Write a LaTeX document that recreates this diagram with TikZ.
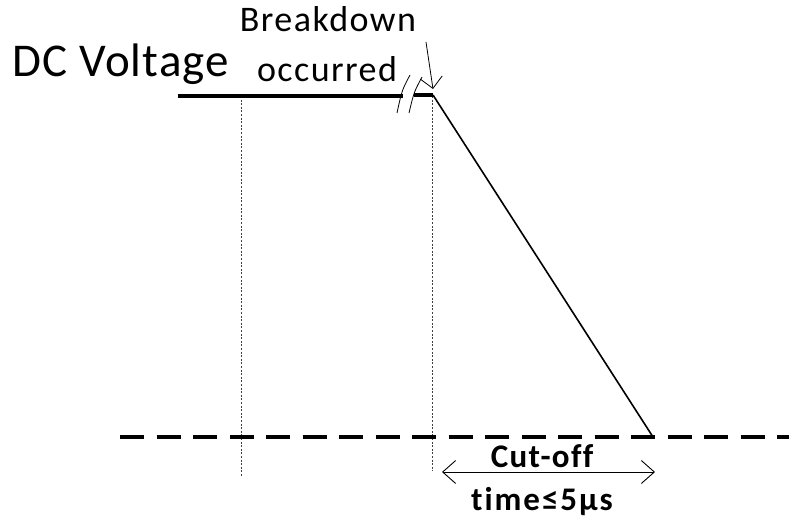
\documentclass[tikz,border=0pt]{standalone}
\usepackage{fontspec}
\setmainfont[Ligatures=NoCommon]{Carlito}
\usetikzlibrary{arrows.meta}
\begin{document}
\begin{tikzpicture}[x=1pt,y=-1pt,
  lbl/.style={inner sep=0pt},
  level/.style={line width=3.2pt},
  ramp/.style={line width=1.6pt},
  guide/.style={line width=0.8pt, black!75, dash pattern=on 2pt off 1.6pt},
  zero/.style={line width=3.4pt, dash pattern=on 24pt off 12.5pt},
  brk/.style={line width=0.8pt},
  thinarrow/.style={line width=0.8pt, -{Straight Barb[length=11pt,width=22pt]}},
  dblarrow/.style={line width=0.9pt, {Straight Barb[length=13pt,width=23pt]}-{Straight Barb[length=13pt,width=23pt]}}
]
\useasboundingbox (0,0) rectangle (789,521);

% key points
\coordinate (L0) at (178,96);
\coordinate (L1) at (403,96);
\coordinate (R0) at (414,95);
\coordinate (R1) at (433,95);
\coordinate (Z) at (653,437);
\coordinate (G1t) at (241,96);
\coordinate (G1b) at (241,476);
\coordinate (G2t) at (432,96);
\coordinate (G2b) at (432,471);
\coordinate (D0) at (120,437);
\coordinate (D1) at (789,437);
\coordinate (A0) at (442,472);
\coordinate (A1) at (655,472);
\coordinate (P0) at (426,42);
\coordinate (P1) at (433,89);
\coordinate (S1a) at (410,75);
\coordinate (S1b) at (397,113);
\coordinate (S2a) at (422,77);
\coordinate (S2b) at (409,113);

% guides
\draw[guide] (G1t) -- (G1b);
\draw[guide] (G2t) -- (G2b);

% zero line
\draw[zero] (D0) -- (D1);

% voltage trace
\draw[level] (L0) -- (L1);
\draw[level] (R0) -- (R1);
\draw[ramp] (R1) -- (Z);

% break marks
\draw[brk] (S1a) .. controls (402,90) .. (S1b);
\draw[brk] (S2a) .. controls (414,92) .. (S2b);

% pointer arrow
\draw[thinarrow] (P0) -- (P1);

% cut-off arrow
\draw[dblarrow] (A0) -- (A1);

% labels
\node[lbl, anchor=base west, font=\fontsize{47}{56}\selectfont\addfontfeature{LetterSpace=2.5}] (dc) at (12,77) {DC Voltage};
\node[lbl, anchor=base, font=\fontsize{36}{42}\selectfont\addfontfeature{LetterSpace=4}] (bd) at (328,32) {Breakdown};
\node[lbl, anchor=base, font=\fontsize{36}{42}\selectfont\addfontfeature{LetterSpace=4}] (oc) at (327,82) {occurred};
\node[lbl, anchor=base, font=\fontsize{33}{38}\selectfont\bfseries\addfontfeature{LetterSpace=4}] (co) at (542,467) {Cut-off};
\node[lbl, anchor=base, font=\fontsize{33}{38}\selectfont\bfseries\addfontfeature{LetterSpace=6}] (tm) at (542,510) {time≤5μs};
\end{tikzpicture}
\end{document}
